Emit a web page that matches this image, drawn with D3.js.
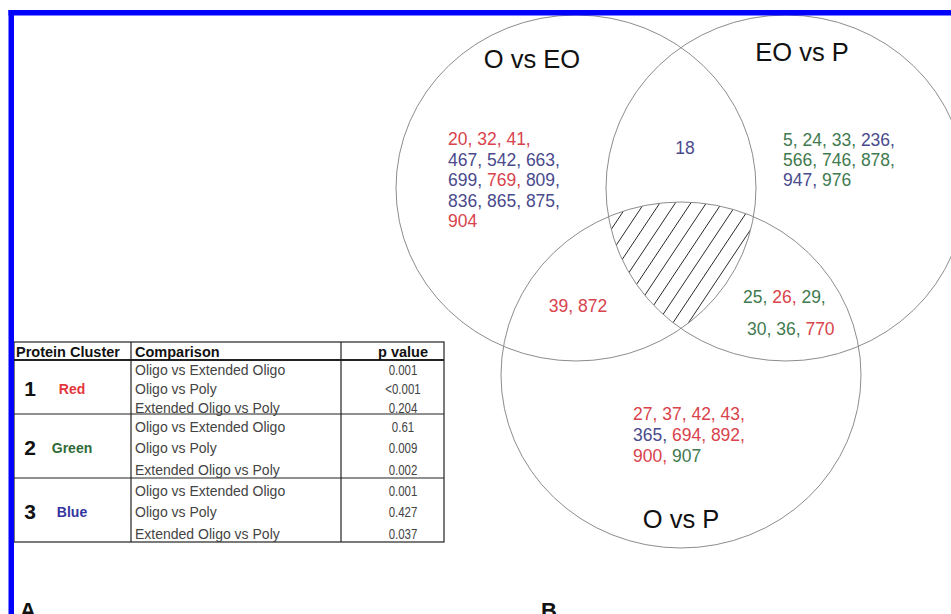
<!DOCTYPE html>
<html>
<head>
<meta charset="utf-8">
<script src="https://cdn.jsdelivr.net/npm/d3@7/dist/d3.min.js"></script>
<style>
  html, body { margin: 0; padding: 0; background: #fff; }
  svg { display: block; }
  text { font-family: "Liberation Sans", Arial, sans-serif; }
</style>
</head>
<body>
<svg id="chart" width="951" height="614"></svg>
<script>
// ---------------- DATA ----------------
const setLabels = ["O vs EO", "EO vs P", "O vs P"];
// protein spot numbers per Venn region, with cluster colour key (R/G/B), grouped by printed line
const onlyOvsEO = [
  [[20, "R"], [32, "R"], [41, "R"]],
  [[467, "B"], [542, "B"], [663, "B"]],
  [[699, "B"], [769, "R"], [809, "B"]],
  [[836, "B"], [865, "B"], [875, "B"]],
  [[904, "R"]]
];
const onlyEOvsP = [
  [[5, "G"], [24, "G"], [33, "G"], [236, "B"]],
  [[566, "G"], [746, "G"], [878, "G"]],
  [[947, "B"], [976, "G"]]
];
const onlyOvsP = [
  [[27, "R"], [37, "R"], [42, "R"], [43, "R"]],
  [[365, "B"], [694, "R"], [892, "R"]],
  [[900, "R"], [907, "G"]]
];
const ovsEO_and_EOvsP = [[[18, "B"]]];
const ovsEO_and_OvsP = [[[39, "R"], [872, "R"]]];
const eovsP_and_OvsP = [
  [[25, "G"], [26, "R"], [29, "G"]],
  [[30, "G"], [36, "G"], [770, "R"]]
];
// table
const tableHeaders = ["Protein Cluster", "Comparison", "p value"];
const clusterIds = [1, 2, 3];
const clusterNames = ["Red", "Green", "Blue"];
const comparisons = ["Oligo vs Extended Oligo", "Oligo vs Poly", "Extended Oligo vs Poly"];
const pValues = [
  ["0.001", "<0.001", "0.204"],
  ["0.61", "0.009", "0.002"],
  ["0.001", "0.427", "0.037"]
];
const panelLabels = ["A", "B"];

// ---------------- STYLE / LAYOUT ----------------
const numColor = { R: "#d8434c", G: "#3f7a50", B: "#4a4a8c" };
const nameColor = { Red: "#e4373d", Green: "#2f6b37", Blue: "#3434a0" };

const svg = d3.select("#chart");

// Venn coordinate space (ellipses slightly wider than tall, as in the picture)
const vx = d3.scaleLinear().domain([0, 1]).range([0, 1]);
const vy = d3.scaleLinear().domain([0, 1]).range([0, 1]);
const ellipses = [
  { cx: 576, cy: 188, rx: 180, ry: 173 },
  { cx: 786, cy: 188, rx: 180, ry: 173 },
  { cx: 681, cy: 375, rx: 180, ry: 173 }
];

const defs = svg.append("defs");
ellipses.forEach((e, i) => {
  defs.append("clipPath").attr("id", "clip" + i)
    .append("ellipse")
    .attr("cx", vx(e.cx)).attr("cy", vy(e.cy)).attr("rx", e.rx).attr("ry", e.ry);
});

// hatched triple intersection
const hatchG = svg.append("g").attr("clip-path", "url(#clip0)")
  .append("g").attr("clip-path", "url(#clip1)")
  .append("g").attr("clip-path", "url(#clip2)");
const hatchStep = 15.5, slope = 1.5;
const hx = d3.range(560, 900, hatchStep);
hatchG.selectAll("line").data(hx).join("line")
  .attr("x1", d => d).attr("y1", 190)
  .attr("x2", d => d - 150 / slope).attr("y2", 340)
  .attr("stroke", "#2a2a2a").attr("stroke-width", 1);

// ellipses
svg.append("g").selectAll("ellipse").data(ellipses).join("ellipse")
  .attr("cx", d => vx(d.cx)).attr("cy", d => vy(d.cy))
  .attr("rx", d => d.rx).attr("ry", d => d.ry)
  .attr("fill", "none").attr("stroke", "#8c8c8c").attr("stroke-width", 1);

// set labels
const labelPos = [[532, 68], [802, 61], [681, 528]];
svg.append("g").selectAll("text").data(setLabels).join("text")
  .attr("x", (d, i) => labelPos[i][0]).attr("y", (d, i) => labelPos[i][1])
  .attr("text-anchor", "middle").attr("font-size", 25.5).attr("fill", "#111")
  .text(d => d);

// region number lists
function drawList(lines, x, y0, lh, anchor, xOffsets) {
  const t = svg.append("text").attr("font-size", 17.5).attr("text-anchor", anchor || "start");
  lines.forEach((line, li) => {
    line.forEach((item, k) => {
      const isLastItem = (li === lines.length - 1) && (k === line.length - 1);
      const ts = t.append("tspan").attr("fill", numColor[item[1]])
        .text(item[0] + (isLastItem ? "" : (k === line.length - 1 ? "," : ", ")));
      if (k === 0) ts.attr("x", x + ((xOffsets && xOffsets[li]) || 0)).attr("y", y0 + li * lh);
    });
  });
}
drawList(onlyOvsEO, 448, 145, 20.5);
drawList(onlyEOvsP, 783, 146, 20);
drawList(onlyOvsP, 633, 420, 21);
drawList(ovsEO_and_EOvsP, 685, 154, 20, "middle");
drawList(ovsEO_and_OvsP, 578, 312, 20, "middle");
drawList(eovsP_and_OvsP, 743, 303, 32, "start", [0, 4]);

// ---------------- TABLE ----------------
const tbl = { left: 14, right: 444, top: 342, headBottom: 360, bottom: 542 };
const colX = [131, 341];
const groupBounds = [360, 414, 478, 542];
const tg = svg.append("g");
tg.append("rect").attr("x", tbl.left).attr("y", tbl.top)
  .attr("width", tbl.right - tbl.left).attr("height", tbl.bottom - tbl.top)
  .attr("fill", "none").attr("stroke", "#222").attr("stroke-width", 1.2);
tg.append("line").attr("x1", tbl.left).attr("x2", tbl.right)
  .attr("y1", tbl.headBottom).attr("y2", tbl.headBottom)
  .attr("stroke", "#222").attr("stroke-width", 2.2);
tg.selectAll("line.g").data(groupBounds.slice(1, 3)).join("line").attr("class", "g")
  .attr("x1", tbl.left).attr("x2", tbl.right).attr("y1", d => d).attr("y2", d => d)
  .attr("stroke", "#222").attr("stroke-width", 1.2);
tg.selectAll("line.c").data(colX).join("line").attr("class", "c")
  .attr("x1", d => d).attr("x2", d => d).attr("y1", tbl.top).attr("y2", tbl.bottom)
  .attr("stroke", "#222").attr("stroke-width", 1.2);

// headers
const headX = [16, 135, 403];
const headAnchor = ["start", "start", "middle"];
tg.selectAll("text.h").data(tableHeaders).join("text").attr("class", "h")
  .attr("x", (d, i) => headX[i]).attr("y", 357)
  .attr("text-anchor", (d, i) => headAnchor[i])
  .attr("font-size", 14.5).attr("font-weight", "bold").attr("fill", "#111")
  .text(d => d);

clusterIds.forEach((cid, g) => {
  const top = groupBounds[g], bot = groupBounds[g + 1];
  const rowY = d3.scaleLinear().domain([0, 2])
    .range(g === 0 ? [top + 15, bot - 1] : [top + 18, bot - 3.5]);
  tg.append("text").attr("x", 30).attr("y", rowY(1) + 1.5)
    .attr("text-anchor", "middle").attr("font-size", 21).attr("font-weight", "bold")
    .attr("fill", "#111").text(cid);
  tg.append("text").attr("x", 72).attr("y", rowY(1))
    .attr("text-anchor", "middle").attr("font-size", 14).attr("font-weight", "bold")
    .attr("fill", nameColor[clusterNames[g]]).text(clusterNames[g]);
  tg.selectAll("text.cmp" + g).data(comparisons).join("text").attr("class", "cmp" + g)
    .attr("x", 135).attr("y", (d, i) => rowY(i))
    .attr("font-size", 14).attr("fill", "#444").text(d => d);
  tg.selectAll("text.pv" + g).data(pValues[g]).join("text").attr("class", "pv" + g)
    .attr("transform", (d, i) => `translate(403,${rowY(i)}) scale(0.82,1)`)
    .attr("text-anchor", "middle").attr("font-size", 14).attr("fill", "#444").text(d => d);
});

// panel letters
const panelX = [20, 541];
svg.append("g").selectAll("text").data(panelLabels).join("text")
  .attr("x", (d, i) => panelX[i]).attr("y", 618)
  .attr("font-size", 22).attr("font-weight", "bold").attr("fill", "#111")
  .text(d => d);

// blue frame (top and left edges)
svg.append("rect").attr("x", 8.5).attr("y", 10).attr("width", 951 - 8.5).attr("height", 5.5).attr("fill", "#0000ff");
svg.append("rect").attr("x", 8.5).attr("y", 10).attr("width", 5.5).attr("height", 614 - 10).attr("fill", "#0000ff");
</script>
</body>
</html>
